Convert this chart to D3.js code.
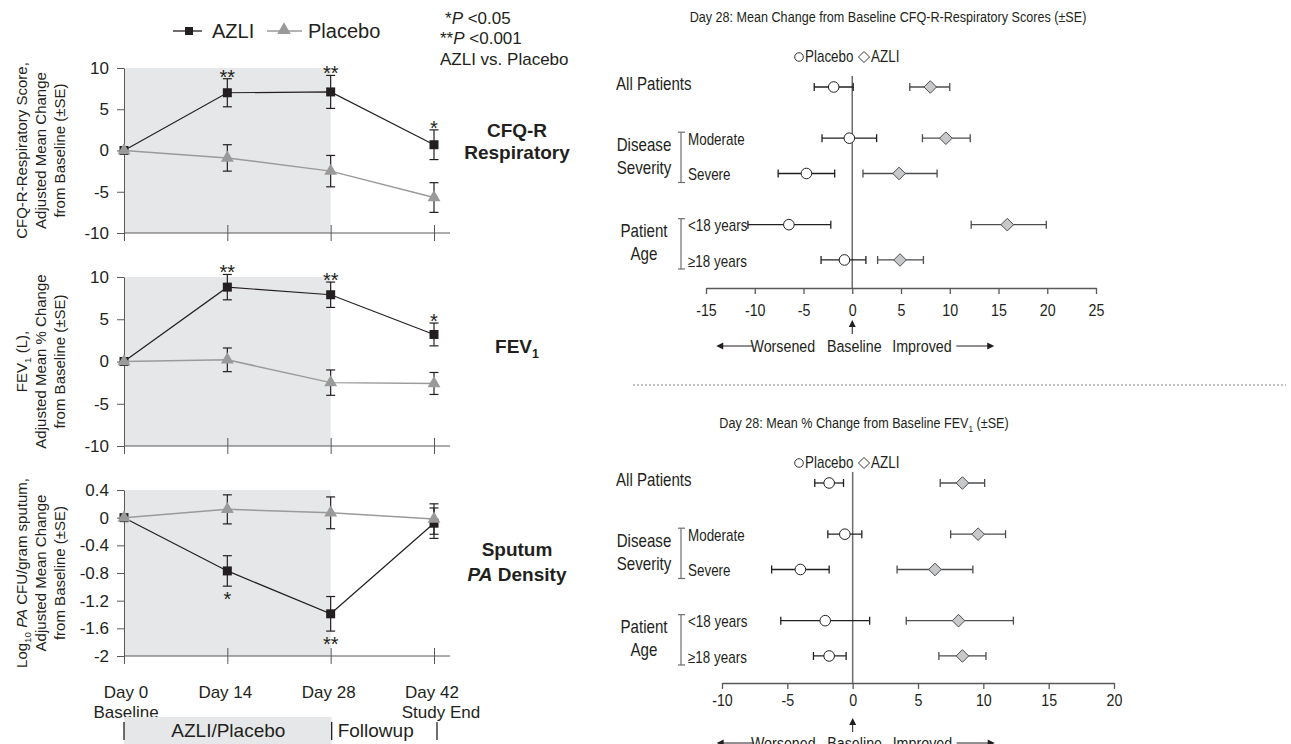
<!DOCTYPE html>
<html lang="en">
<head>
<meta charset="utf-8">
<title>AZLI vs Placebo</title>
<script src="https://d3js.org/d3.v7.min.js"></script>
<style>
  body { margin: 0; background: #fff; }
  svg { display: block; }
  text { font-family: "Liberation Sans", Arial, sans-serif; fill: #231f20; }
</style>
</head>
<body>
<svg id="chart" width="1291" height="744"></svg>
<script>

/* ---- time course data (left) ---- */
var days = [0, 14, 28, 42];
var dayLabels = ["Day 0", "Day 14", "Day 28", "Day 42"];
var daySubLabels = ["Baseline", "", "", "Study End"];

var cfqAzli = [0, 7.0, 7.1, 0.7];
var cfqAzliSE = [0, 1.7, 2.0, 1.8];
var cfqPlacebo = [0, -0.9, -2.5, -5.7];
var cfqPlaceboSE = [0, 1.6, 1.9, 1.8];
var cfqStars = ["", "**", "**", "*"];
var cfqTicks = [-10, -5, 0, 5, 10];

var fevAzli = [0, 8.8, 7.9, 3.2];
var fevAzliSE = [0, 1.5, 1.5, 1.35];
var fevPlacebo = [0, 0.2, -2.5, -2.6];
var fevPlaceboSE = [0, 1.4, 1.5, 1.3];
var fevStars = ["", "**", "**", "*"];
var fevTicks = [-10, -5, 0, 5, 10];

var paAzli = [0, -0.77, -1.39, -0.08];
var paAzliSE = [0, 0.22, 0.25, 0.22];
var paPlacebo = [0, 0.12, 0.07, -0.02];
var paPlaceboSE = [0, 0.21, 0.23, 0.22];
var paStars = ["", "*", "**", ""];
var paTicks = [-2, -1.6, -1.2, -0.8, -0.4, 0, 0.4];

/* ---- subgroup data (right) ---- */
var subgroups = ["All Patients", "Moderate", "Severe", "<18 years", "\u226518 years"];
var groupNames = [["Disease", "Severity"], ["Patient", "Age"]];

var cfqSubPlacebo = [-1.9, -0.3, -4.7, -6.5, -0.8];
var cfqSubPlaceboLo = [-3.9, -3.1, -7.6, -10.7, -3.2];
var cfqSubPlaceboHi = [0.1, 2.5, -1.8, -2.2, 1.4];
var cfqSubAzli = [8.0, 9.6, 4.8, 15.9, 4.9];
var cfqSubAzliLo = [5.9, 7.2, 1.1, 12.2, 2.6];
var cfqSubAzliHi = [10.0, 12.1, 8.7, 19.9, 7.3];
var cfqSubTicks = [-15, -10, -5, 0, 5, 10, 15, 20, 25];

var fevSubPlacebo = [-1.8, -0.6, -4.0, -2.1, -1.8];
var fevSubPlaceboLo = [-2.9, -1.9, -6.2, -5.5, -3.0];
var fevSubPlaceboHi = [-0.7, 0.7, -1.8, 1.3, -0.5];
var fevSubAzli = [8.4, 9.6, 6.3, 8.1, 8.4];
var fevSubAzliLo = [6.7, 7.5, 3.4, 4.1, 6.6];
var fevSubAzliHi = [10.1, 11.7, 9.2, 12.3, 10.2];
var fevSubTicks = [-10, -5, 0, 5, 10, 15, 20];

/* ---- styles ---- */
var shade = "#e6e7e8";
var axisCol = "#58595b";
var ink = "#231f20";
var grey = "#9a9a9a";
var narrowRatio = 0.84;   // no condensed face installed, squeeze glyphs instead

var svg = d3.select("#chart");
svg.append("rect").attr("width", 1291).attr("height", 744).attr("fill", "#fff");

// writes text made of pieces: {t, sub, it}
function rich(sel, parts, size) {
	var down = false;
	parts.forEach(function(p) {
		var ts = sel.append("tspan").text(p.t);
		if (p.it) ts.attr("font-style", "italic");
		if (p.sub) {
			ts.attr("font-size", size * 0.65).attr("dy", size * 0.25);
			down = true;
		} else if (down) {
			ts.attr("dy", -size * 0.25);
			down = false;
		}
	});
	return sel;
}

/* ================= left: time course panels ================= */
var xDay = d3.scaleLinear().domain([0, 42]).range([124, 434]);

var panels = [
	{azli: cfqAzli, azliSE: cfqAzliSE, pla: cfqPlacebo, plaSE: cfqPlaceboSE, stars: cfqStars, ticks: cfqTicks,
	 domain: [-10, 10], top: 68, bottom: 233, starsBelow: false,
	 title: [[{t: "CFQ-R-Respiratory Score,"}], [{t: "Adjusted  Mean Change"}], [{t: "from Baseline (\u00b1SE)"}]],
	 label: [[{t: "CFQ-R"}], [{t: "Respiratory"}]], labelY: [137, 159]},
	{azli: fevAzli, azliSE: fevAzliSE, pla: fevPlacebo, plaSE: fevPlaceboSE, stars: fevStars, ticks: fevTicks,
	 domain: [-10, 10], top: 277, bottom: 446, starsBelow: false,
	 title: [[{t: "FEV"}, {t: "1", sub: true}, {t: " (L),"}], [{t: "Adjusted Mean % Change"}], [{t: "from Baseline (\u00b1SE)"}]],
	 label: [[{t: "FEV"}, {t: "1", sub: true}]], labelY: [353]},
	{azli: paAzli, azliSE: paAzliSE, pla: paPlacebo, plaSE: paPlaceboSE, stars: paStars, ticks: paTicks,
	 domain: [-2, 0.4], top: 490, bottom: 656, starsBelow: true,
	 title: [[{t: "Log"}, {t: "10", sub: true}, {t: " "}, {t: "PA", it: true}, {t: " CFU/gram sputum,"}], [{t: "Adjusted Mean Change"}], [{t: "from Baseline (\u00b1SE)"}]],
	 label: [[{t: "Sputum"}], [{t: "PA", it: true}, {t: " Density"}]], labelY: [556, 581]}
];

panels.forEach(function(p, pi) {
	var g = svg.append("g");
	var y = d3.scaleLinear().domain(p.domain).range([p.bottom, p.top]);

	// treatment period shading
	g.append("rect")
		.attr("x", xDay(0)).attr("y", p.top)
		.attr("width", xDay(28) - xDay(0)).attr("height", p.bottom - p.top)
		.attr("fill", shade);

	// y axis
	var ya = g.append("g")
		.attr("transform", "translate(124,0)")
		.call(d3.axisLeft(y).tickValues(p.ticks).tickFormat(String).tickSize(7).tickSizeOuter(0).tickPadding(8));
	ya.attr("font-family", null).attr("font-size", 17);
	ya.selectAll("path, line").attr("stroke", axisCol);
	ya.selectAll("text").attr("fill", ink);

	// x axis, crossing ticks, line runs past day 42
	var xa = g.append("g")
		.attr("transform", "translate(0," + p.bottom + ")")
		.call(d3.axisBottom(xDay).tickValues(days).tickSize(8).tickSizeOuter(0).tickFormat(""));
	xa.select(".domain").remove();
	xa.selectAll(".tick line").attr("y1", -8).attr("stroke", axisCol);
	g.append("line")
		.attr("x1", 124).attr("x2", 450)
		.attr("y1", p.bottom).attr("y2", p.bottom)
		.attr("stroke", axisCol);

	// y axis title, three rotated lines
	var mid = (p.top + p.bottom) / 2;
	var tx = [27, 46, 65];
	p.title.forEach(function(parts, li) {
		var t = g.append("text")
			.attr("transform", "translate(" + tx[li] + "," + mid + ") rotate(-90)")
			.attr("text-anchor", "middle")
			.attr("font-size", 15);
		rich(t, parts, 15);
	});

	// bold panel label
	p.label.forEach(function(parts, li) {
		var t = g.append("text")
			.attr("x", 517).attr("y", p.labelY[li])
			.attr("text-anchor", "middle")
			.attr("font-size", 19).attr("font-weight", "bold");
		rich(t, parts, 19);
	});

	// error bars
	var series = [{v: p.azli, se: p.azliSE}, {v: p.pla, se: p.plaSE}];
	series.forEach(function(s) {
		var eb = g.append("g").attr("stroke", ink).attr("stroke-width", 1.2);
		s.v.forEach(function(v, i) {
			if (!s.se[i]) return;
			var cx = xDay(days[i]);
			eb.append("line").attr("x1", cx).attr("x2", cx).attr("y1", y(v + s.se[i])).attr("y2", y(v - s.se[i]));
			eb.append("line").attr("x1", cx - 4.5).attr("x2", cx + 4.5).attr("y1", y(v + s.se[i])).attr("y2", y(v + s.se[i]));
			eb.append("line").attr("x1", cx - 4.5).attr("x2", cx + 4.5).attr("y1", y(v - s.se[i])).attr("y2", y(v - s.se[i]));
		});
	});

	var line = d3.line()
		.x(function(d, i) { return xDay(days[i]); })
		.y(function(d) { return y(d); });

	// AZLI
	g.append("path").datum(p.azli).attr("d", line)
		.attr("fill", "none").attr("stroke", ink).attr("stroke-width", 1.2);
	g.selectAll(".sq").data(p.azli).join("rect")
		.attr("x", function(d, i) { return xDay(days[i]) - 4.5; })
		.attr("y", function(d) { return y(d) - 4.5; })
		.attr("width", 9).attr("height", 9)
		.attr("fill", ink);

	// placebo
	g.append("path").datum(p.pla).attr("d", line)
		.attr("fill", "none").attr("stroke", grey).attr("stroke-width", 1.5);
	g.selectAll(".tri").data(p.pla).join("path")
		.attr("d", d3.symbol(d3.symbolTriangle).size(72))
		.attr("transform", function(d, i) { return "translate(" + xDay(days[i]) + "," + y(d) + ")"; })
		.attr("fill", grey);

	// significance stars on AZLI
	p.stars.forEach(function(s, i) {
		if (!s) return;
		var v = p.azli[i], se = p.azliSE[i];
		var sy = p.starsBelow ? y(v - se) + 9 + 11 : y(v + se) - 6 + 11;
		g.append("text")
			.attr("x", xDay(days[i])).attr("y", sy)
			.attr("text-anchor", "middle")
			.attr("font-size", 20)
			.text(s);
	});

	// day labels under last panel
	if (pi === panels.length - 1) {
		days.forEach(function(d, i) {
			g.append("text").attr("x", xDay(d) + (i === 0 ? 2 : -2)).attr("y", 698)
				.attr("text-anchor", "middle").attr("font-size", 17).text(dayLabels[i]);
			if (daySubLabels[i]) {
				g.append("text").attr("x", xDay(d) + (i === 0 ? 2 : 7)).attr("y", 718)
					.attr("text-anchor", "middle").attr("font-size", 17).text(daySubLabels[i]);
			}
		});
	}
});

// treatment / followup bar
svg.append("rect").attr("x", xDay(0)).attr("y", 717).attr("width", xDay(28) - xDay(0) + 1).attr("height", 27).attr("fill", shade);
[xDay(0), xDay(28) + 1, xDay(42) + 3].forEach(function(bx) {
	svg.append("line").attr("x1", bx).attr("x2", bx).attr("y1", 722).attr("y2", 740)
		.attr("stroke", ink).attr("stroke-width", 1.3);
});
svg.append("text").attr("x", (xDay(0) + xDay(28)) / 2 + 1).attr("y", 737)
	.attr("text-anchor", "middle").attr("font-size", 19).text("AZLI/Placebo");
svg.append("text").attr("x", xDay(28) + 7).attr("y", 737)
	.attr("font-size", 19).text("Followup");

// legend
var lg = svg.append("g");
lg.append("line").attr("x1", 173).attr("x2", 202).attr("y1", 31).attr("y2", 31).attr("stroke", ink).attr("stroke-width", 1.3);
lg.append("rect").attr("x", 185).attr("y", 27).attr("width", 8).attr("height", 8).attr("fill", ink);
lg.append("text").attr("x", 212).attr("y", 38).attr("font-size", 20).text("AZLI");
lg.append("line").attr("x1", 267).attr("x2", 302).attr("y1", 31).attr("y2", 31).attr("stroke", grey).attr("stroke-width", 1.5);
lg.append("path").attr("d", d3.symbol(d3.symbolTriangle).size(80)).attr("transform", "translate(284,30)").attr("fill", grey);
lg.append("text").attr("x", 308).attr("y", 38).attr("font-size", 20).text("Placebo");

// p-value note
var notes = [
	{x: 445, y: 24, parts: [{t: "*"}, {t: "P", it: true}, {t: " <0.05"}]},
	{x: 440, y: 44, parts: [{t: "**"}, {t: "P", it: true}, {t: " <0.001"}]},
	{x: 440, y: 65, parts: [{t: "AZLI vs. Placebo"}]}
];
notes.forEach(function(n) {
	rich(svg.append("text").attr("x", n.x).attr("y", n.y).attr("font-size", 17), n.parts, 17);
});

/* ================= right: subgroup plots ================= */
var rowSlots = [0, 1.45, 2.45, 3.9, 4.9];
var rowStep = 35.3;

function diamond(r) {
	return "M0," + (-r) + "L" + r + ",0L0," + r + "L" + (-r) + ",0Z";
}

function drawForest(f) {
	var g = svg.append("g");
	var x = d3.scaleLinear().domain(f.domain).range(f.range);
	var x0 = x(0);
	var rowY = function(i) { return f.rowTop + rowSlots[i] * rowStep; };

	// title
	rich(g.append("text").attr("class", "narrow")
		.attr("x", f.titleX).attr("y", f.titleY)
		.attr("text-anchor", "middle").attr("font-size", 15), f.title, 15);

	// legend
	var ly = f.titleY + 40;
	g.append("circle").attr("cx", 799).attr("cy", ly - 5).attr("r", 4.3)
		.attr("fill", "#fff").attr("stroke", ink).attr("stroke-width", 0.9);
	g.append("text").attr("class", "narrow").attr("x", 805).attr("y", ly).attr("font-size", 16).text("Placebo");
	g.append("path").attr("d", diamond(5.5)).attr("transform", "translate(864," + (ly - 5) + ")")
		.attr("fill", "#fff").attr("stroke", ink).attr("stroke-width", 0.9);
	g.append("text").attr("class", "narrow").attr("x", 871).attr("y", ly).attr("font-size", 16).text("AZLI");

	// baseline (zero) line
	g.append("line").attr("x1", x0).attr("x2", x0)
		.attr("y1", rowY(0) - 11).attr("y2", f.axisY)
		.attr("stroke", "#6d6e71").attr("stroke-width", 1.5);

	// axis
	var xa = g.append("g")
		.attr("transform", "translate(0," + f.axisY + ")")
		.call(d3.axisBottom(x).tickValues(f.ticks).tickFormat(String).tickSize(6).tickSizeOuter(0).tickPadding(f.tickPad));
	xa.attr("font-family", null).attr("font-size", 17);
	xa.selectAll("path, line").attr("stroke", axisCol).attr("stroke-width", 1.3);
	xa.selectAll("text").attr("class", "narrow").attr("fill", ink);

	// row labels
	g.append("text").attr("class", "narrow").attr("x", 616).attr("y", rowY(0) - 3).attr("dy", "0.35em")
		.attr("font-size", 18).text(subgroups[0]);
	for (var i = 1; i < subgroups.length; i++) {
		g.append("text").attr("class", "narrow").attr("x", 688).attr("y", rowY(i) + 1).attr("dy", "0.35em")
			.attr("font-size", 16).text(subgroups[i]);
	}

	// group labels with brackets
	groupNames.forEach(function(names, gi) {
		var a = rowY(1 + gi * 2), b = rowY(2 + gi * 2), m = (a + b) / 2;
		g.append("text").attr("class", "narrow").attr("x", 644).attr("y", m - 5)
			.attr("text-anchor", "middle").attr("font-size", 18).text(names[0]);
		g.append("text").attr("class", "narrow").attr("x", 644).attr("y", m + 18)
			.attr("text-anchor", "middle").attr("font-size", 18).text(names[1]);
		var br = g.append("g").attr("stroke", "#6d6e71").attr("stroke-width", 1.2);
		br.append("line").attr("x1", 681).attr("x2", 681).attr("y1", a - 6).attr("y2", b + 9);
		br.append("line").attr("x1", 678).attr("x2", 685).attr("y1", a - 6).attr("y2", a - 6);
		br.append("line").attr("x1", 678).attr("x2", 685).attr("y1", b + 9).attr("y2", b + 9);
	});

	// error bars and markers
	var sets = [
		{v: f.azli, lo: f.azliLo, hi: f.azliHi, col: "#4d4d4f", kind: "d"},
		{v: f.pla, lo: f.plaLo, hi: f.plaHi, col: ink, kind: "c"}
	];
	sets.forEach(function(s) {
		var eb = g.append("g").attr("stroke", s.col).attr("stroke-width", 1.3);
		s.v.forEach(function(v, i) {
			var ry = rowY(i);
			eb.append("line").attr("x1", x(s.lo[i])).attr("x2", x(s.hi[i])).attr("y1", ry).attr("y2", ry);
			eb.append("line").attr("x1", x(s.lo[i])).attr("x2", x(s.lo[i])).attr("y1", ry - 4).attr("y2", ry + 4);
			eb.append("line").attr("x1", x(s.hi[i])).attr("x2", x(s.hi[i])).attr("y1", ry - 4).attr("y2", ry + 4);
		});
		if (s.kind === "c") {
			g.selectAll(".pc").data(s.v).join("circle")
				.attr("cx", function(d) { return x(d); })
				.attr("cy", function(d, i) { return rowY(i); })
				.attr("r", 5.3)
				.attr("fill", "#fff").attr("stroke", ink).attr("stroke-width", 1);
		} else {
			g.selectAll(".ad").data(s.v).join("path")
				.attr("d", diamond(6.3))
				.attr("transform", function(d, i) { return "translate(" + x(d) + "," + rowY(i) + ")"; })
				.attr("fill", "#c7c8ca").attr("stroke", "#4d4d4f").attr("stroke-width", 1);
		}
	});

	// baseline arrow and direction hints
	var ay = f.axisY + f.arrowOff;
	g.append("line").attr("x1", x0).attr("x2", x0).attr("y1", ay + 4).attr("y2", ay + 14).attr("stroke", ink);
	g.append("path").attr("d", "M" + x0 + "," + ay + "l-3.5,7h7z").attr("fill", ink);
	var wy = f.axisY + f.hintOff;
	g.append("text").attr("class", "narrow").attr("x", x0 - 37).attr("y", wy)
		.attr("text-anchor", "end").attr("font-size", 17).text("Worsened");
	g.append("text").attr("class", "narrow").attr("x", x0 + 2).attr("y", wy)
		.attr("text-anchor", "middle").attr("font-size", 17).text("Baseline");
	g.append("text").attr("class", "narrow").attr("x", x0 + 40).attr("y", wy)
		.attr("font-size", 17).text("Improved");
	var hy = wy - 6;
	g.append("line").attr("x1", x0 - 130).attr("x2", x0 - 99).attr("y1", hy).attr("y2", hy).attr("stroke", ink);
	g.append("path").attr("d", "M" + (x0 - 136) + "," + hy + "l7,-3.5v7z").attr("fill", ink);
	g.append("line").attr("x1", x0 + 104).attr("x2", x0 + 136).attr("y1", hy).attr("y2", hy).attr("stroke", ink);
	g.append("path").attr("d", "M" + (x0 + 142) + "," + hy + "l-7,-3.5v7z").attr("fill", ink);
}

drawForest({
	title: [{t: "Day 28: Mean Change from Baseline CFQ-R-Respiratory Scores (\u00b1SE)"}],
	titleX: 888, titleY: 22,
	domain: [-15, 25], range: [706, 1096], ticks: cfqSubTicks,
	rowTop: 87, axisY: 288, tickPad: 10, arrowOff: 32, hintOff: 64,
	pla: cfqSubPlacebo, plaLo: cfqSubPlaceboLo, plaHi: cfqSubPlaceboHi,
	azli: cfqSubAzli, azliLo: cfqSubAzliLo, azliHi: cfqSubAzliHi
});

// dotted separator
svg.append("line").attr("x1", 633).attr("x2", 1286).attr("y1", 385).attr("y2", 385)
	.attr("stroke", "#808285").attr("stroke-width", 1).attr("stroke-dasharray", "2,2");

drawForest({
	title: [{t: "Day 28: Mean % Change from Baseline FEV"}, {t: "1", sub: true}, {t: " (\u00b1SE)"}],
	titleX: 864, titleY: 428,
	domain: [-10, 20], range: [722, 1114], ticks: fevSubTicks,
	rowTop: 483, axisY: 683, tickPad: 5, arrowOff: 35, hintOff: 66,
	pla: fevSubPlacebo, plaLo: fevSubPlaceboLo, plaHi: fevSubPlaceboHi,
	azli: fevSubAzli, azliLo: fevSubAzliLo, azliHi: fevSubAzliHi
});

// condensed look of the subgroup plot lettering: squeeze each text about its anchor x
svg.selectAll("text.narrow").each(function() {
	var ax = +this.getAttribute("x") || 0;
	var old = this.getAttribute("transform") || "";
	d3.select(this).attr("transform", old + " translate(" + ax + ",0) scale(" + narrowRatio + ",1) translate(" + (-ax) + ",0)");
});

</script>
</body>
</html>
